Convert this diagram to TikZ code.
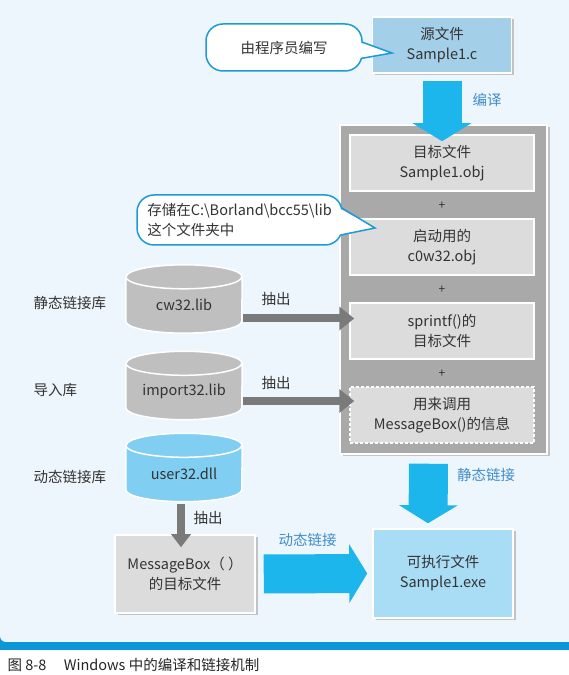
\documentclass[tikz,border=0pt]{standalone}
\usepackage{fontspec}
\setmainfont{Noto Sans CJK SC}
\usepackage{xcolor}
\usepackage{tikz}
\usetikzlibrary{arrows.meta,shadows,backgrounds,calc}

\definecolor{bgblue}{HTML}{EEF6FD}
\definecolor{barblue}{HTML}{0A96D8}
\definecolor{srcblue}{HTML}{A3D0E8}
\definecolor{exeblue}{HTML}{A9DDF5}
\definecolor{arrowblue}{HTML}{1DB6EC}
\definecolor{labelblue}{HTML}{3F8DC9}
\definecolor{linkgray}{HTML}{A9A9A9}
\definecolor{boxgray}{HTML}{DCDCDC}
\definecolor{cylgray}{HTML}{BFBFBF}
\definecolor{cylblue}{HTML}{80CFF2}
\definecolor{darkarrow}{HTML}{7A7A7A}
\definecolor{noteblue}{HTML}{1B9AD8}
\definecolor{txt}{HTML}{333333}
\definecolor{shadowgray}{HTML}{C2C2C2}

\begin{document}
\begin{tikzpicture}[x=1pt,y=1pt,
        every node/.style={text=txt, font=\fontsize{14.5}{20}\selectfont},
        filebox/.style={draw=white, line width=1.5pt, align=center, inner sep=0pt,
            drop shadow={shadow xshift=2.5pt, shadow yshift=-2.5pt, fill=shadowgray, opacity=1}},
        objbox/.style={draw=white, line width=1.5pt, fill=boxgray, minimum width=184pt,
            minimum height=56pt, align=center, inner sep=0pt},
        note/.style={draw=noteblue, fill=white, line width=1.5pt, rounded corners=17pt},
        cyl/.style={minimum width=116pt, minimum height=56pt, inner sep=0pt},
        bluearrow/.style={draw=arrowblue, line width=39pt, -{Triangle[length=18pt,width=58pt]}},
        grayarrow/.style={draw=darkarrow, line width=8pt, -{Triangle[length=15pt,width=23pt]}},
        bluelabel/.style={text=labelblue}]
        \useasboundingbox (0,0) rectangle (569,675);

        % Background
        \begin{scope}[on background layer]
            \fill[white] (0,0) rectangle (569,30);
            \fill[barblue] (0,25) rectangle (569,42);
            \fill[bgblue, rounded corners=6pt] (0,33) rectangle (585,690);
        \end{scope}

        % Source file
        \node[filebox, fill=srcblue, minimum width=139pt, minimum height=56pt] (src) at (442,630) {源文件\\Sample1.c};
        \node[note, minimum width=156pt, minimum height=47pt] (note1) at (284,627.5) {由程序员编写};
        \coordinate (tip1) at (392,622);
        \fill[white] ($(note1.east)+(-3,5)$) -- (tip1) -- ($(note1.east)+(-5,-11)$) -- cycle;
        \draw[noteblue, line width=1.5pt] ($(note1.east)+(-1,5.5)$) -- (tip1) -- ($(note1.east)+(-2,-11)$);

        % Object files that get linked
        \node[filebox, fill=linkgray, minimum width=207pt, minimum height=329pt] (lnk) at (443.5,385.5) {};
        \node[objbox] (obj) at (442,512) {目标文件\\Sample1.obj};
        \node[font=\fontsize{12}{14}\selectfont] (p1) at (442,469) {+};
        \node[objbox] (c0w) at (442,428) {启动用的\\c0w32.obj};
        \node[font=\fontsize{12}{14}\selectfont] (p2) at (442,385) {+};
        \node[objbox] (spr) at (442,344) {sprintf()的\\目标文件};
        \node[font=\fontsize{12}{14}\selectfont] (p3) at (442,301) {+};
        \node[objbox, dash pattern=on 3pt off 2pt] (msg) at (442,260) {用来调用\\MessageBox()的信息};

        % Where the libraries live
        \node[note, minimum width=205pt, minimum height=50pt, align=left] (note2) at (239.5,455) {存储在C:\textbackslash Borland\textbackslash bcc55\textbackslash lib\\这个文件夹中};
        \coordinate (tip2) at (375,447);
        \fill[white] ($(note2.east)+(-4,12)$) -- (tip2) -- ($(note2.east)+(-5,-15)$) -- cycle;
        \draw[noteblue, line width=1.5pt] ($(note2.east)+(-1,12)$) -- (tip2) -- ($(note2.east)+(-2,-15)$);

        % Libraries
        \node[anchor=west] (slib) at (30,372) {静态链接库};
        \node[anchor=west] (ilib) at (30,285) {导入库};
        \node[anchor=west] (dlib) at (30,198) {动态链接库};
        \node[cyl] (cw) at (184,370) {cw32.lib};
        \node[cyl] (imp) at (184,283.5) {import32.lib};
        \node[cyl] (usr) at (184,201.5) {user32.dll};
        \begin{scope}[on background layer]
            \foreach \n/\col in {cw/cylgray, imp/cylgray, usr/cylblue} {
                \filldraw[fill=\col, draw=white, line width=1.5pt] (\n.north west) -- ([yshift=12pt]\n.south west)
                    arc[start angle=180, end angle=360, x radius=58pt, y radius=12pt] -- (\n.north east)
                    arc[start angle=0, end angle=180, x radius=58pt, y radius=12pt] -- cycle;
                \draw[white, line width=1.5pt] (\n.north west) arc[start angle=180, end angle=360, x radius=58pt, y radius=12pt];
            }
        \end{scope}

        % Results
        \node[filebox, fill=boxgray, minimum width=140pt, minimum height=78pt] (mb) at (185,101) {MessageBox（ ）\\的目标文件};
        \node[filebox, fill=exeblue, minimum width=140pt, minimum height=89pt] (exe) at (443,101.5) {可执行文件\\Sample1.exe};

        % Arrows
        \draw[bluearrow] ([yshift=-7pt]src.south) -- ([yshift=-7pt]obj.north);
        \draw[bluearrow] ($(lnk.south)+(-15,-9)$) -- ($(exe.north)+(-15,5)$);
        \draw[bluearrow] ([xshift=8pt]mb.east) -- ([xshift=-5pt]exe.west);
        \draw[grayarrow] ($(cw.east)+(1,-13.5)$) -- ($(cw.east -| spr.west)+(5,-13.5)$);
        \draw[grayarrow] ($(imp.east)+(1,-9.5)$) -- ($(imp.east -| msg.west)+(5,-9.5)$);
        \draw[grayarrow, -{Triangle[length=13pt,width=19pt]}] ($(usr.south)+(-3,-2)$) -- ($(usr.south |- mb.north)+(-3,-13)$);

        % Labels
        \node[bluelabel] (lbl1) at (487,575) {编译};
        \node[bluelabel] (lbl2) at (486,200) {静态链接};
        \node[bluelabel] (lbl3) at (307.5,135) {动态链接};
        \node (ex1) at (276,376) {抽出};
        \node (ex2) at (276,292) {抽出};
        \node (ex3) at (208,157) {抽出};

        % Caption
        \node[anchor=west, font=\fontsize{14.5}{16}\selectfont, text=black!85] (cap) at (4,10) {图 8-8\hspace{1.2em}Windows 中的编译和链接机制};
    \end{tikzpicture}
\end{document}
